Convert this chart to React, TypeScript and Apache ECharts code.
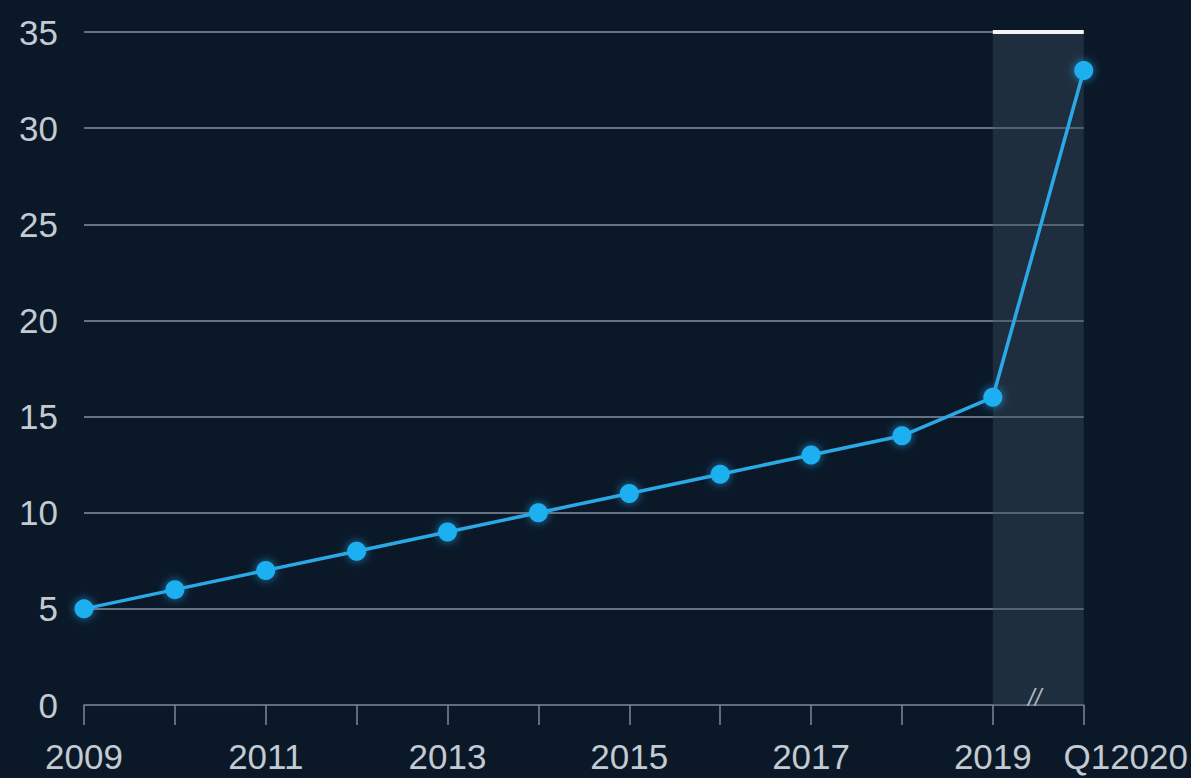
import React, { useEffect, useRef } from "react";
import * as echarts from "echarts";

const categories = ["2009", "2010", "2011", "2012", "2013", "2014", "2015", "2016", "2017", "2018", "2019", "Q12020"];
const values = [5, 6, 7, 8, 9, 10, 11, 12, 13, 14, 16, 33];
const yTicks = { min: 0, max: 35, interval: 5 };
const shadedFrom = "2019";
const shadedTo = "Q12020";

export default function App() {
  const ref = useRef<HTMLDivElement>(null);
  useEffect(() => {
    document.body.style.margin = "0";
    const chart = echarts.init(ref.current!, undefined, { renderer: "svg" });
    const labelColor = "#c3cad2";
    const font = "'Liberation Sans', Arial, sans-serif";
    chart.setOption({
      animation: false,
      backgroundColor: "#0a1828",
      grid: { left: 84, right: 107, top: 32, bottom: 73, containLabel: false },
      xAxis: {
        type: "category",
        data: categories,
        boundaryGap: false,
        axisLine: { show: true, lineStyle: { color: "#7e8995", width: 1.5 } },
        axisTick: { show: true, interval: 0, length: 20, lineStyle: { color: "#7e8995", width: 1.5 } },
        axisLabel: {
          interval: (i: number) => i % 2 === 0 || i === categories.length - 1,
          color: labelColor,
          fontSize: 35,
          fontFamily: font,
          margin: 34,
          formatter: (v: string) => (v === "Q12020" ? "{q|" + v + "}" : v),
          rich: {
            q: { color: labelColor, fontSize: 35, fontFamily: font, padding: [0, 0, 0, 84] },
          },
        },
        splitLine: { show: false },
      },
      yAxis: {
        type: "value",
        min: yTicks.min,
        max: yTicks.max,
        interval: yTicks.interval,
        axisLine: { show: false },
        axisTick: { show: false },
        axisLabel: { color: labelColor, fontSize: 35, fontFamily: font, margin: 26 },
        splitLine: {
          show: true,
          lineStyle: { color: "#8491a0", width: 1.5 },
          showMinLine: false,
        },
      },
      series: [
        {
          type: "line",
          data: values,
          symbol: "circle",
          symbolSize: 19,
          lineStyle: { color: "#2aa9e6", width: 3.5 },
          itemStyle: { color: "#1fb0f0", shadowBlur: 10, shadowColor: "rgba(40,170,240,0.7)" },
          z: 5,
          markArea: {
            silent: true,
            itemStyle: { color: "rgba(62,79,92,0.42)" },
            data: [[{ xAxis: shadedFrom }, { xAxis: shadedTo }]],
          },
          markLine: {
            silent: true,
            symbol: "none",
            label: { show: false },
            lineStyle: { color: "#f2f4f6", width: 4, type: "solid" },
            data: [[{ coord: [shadedFrom, yTicks.max] }, { coord: [shadedTo, yTicks.max] }]],
          },
        },
      ],
      graphic: [
        {
          type: "text",
          left: 1028,
          top: 685,
          style: { text: "//", fill: "#aeb7c0", font: "italic 24px 'Liberation Sans', Arial, sans-serif" },
          z: 10,
        },
      ],
    });
    return () => chart.dispose();
  }, []);
  return <div ref={ref} style={{ width: 1191, height: 778, position: "absolute", left: 0, top: 0 }} />;
}
